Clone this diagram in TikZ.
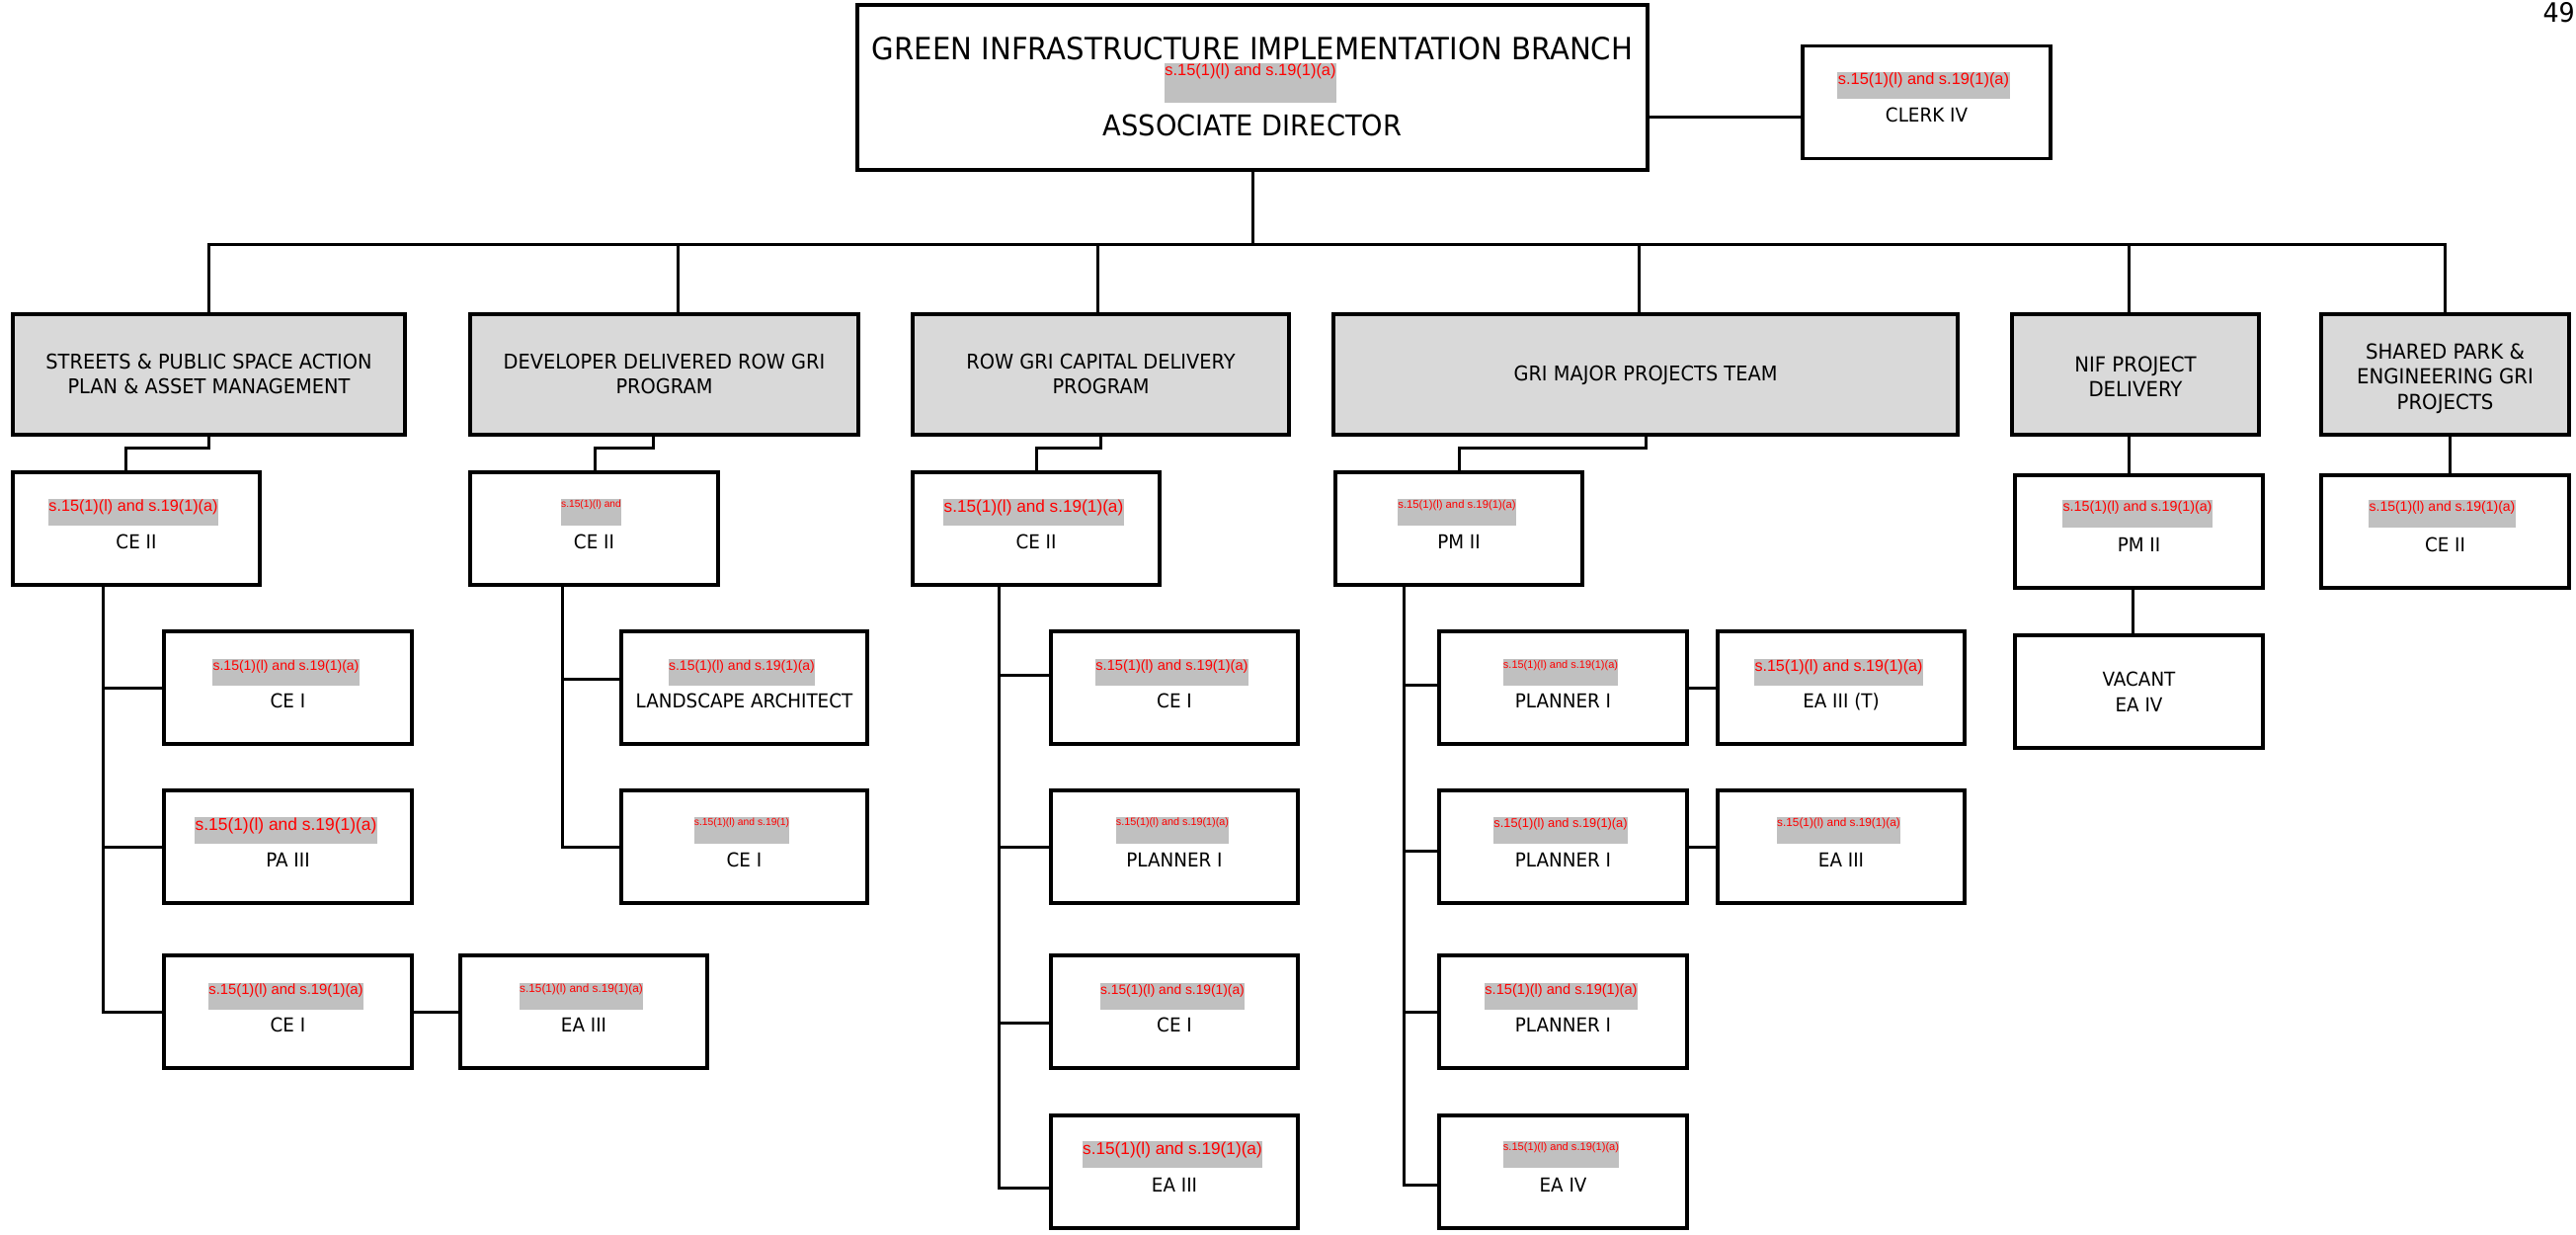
\documentclass[tikz,border=0pt]{standalone}
\usepackage{fontspec}
\newfontfamily\dv[FakeStretch=0.94]{DejaVu Sans}
\newfontfamily\lib{Liberation Sans}
\definecolor{hdrgray}{RGB}{217,217,217}
\definecolor{redgray}{RGB}{192,192,192}
\definecolor{redtxt}{RGB}{255,0,0}
\newcommand\pbx[5]{\node[pbox, minimum width=#4pt] (#1) at (#2,#3) {#5};}
\newcommand\rdx[7]{\pgfmathsetmacro\rth{1+0.73*#6}\pgfmathsetmacro\rtd{#5-\rth}%
  \node[redact, minimum width=#4pt, text height=\rth pt, text depth=\rtd pt, font=\lib\fontsize{#6}{#6}\selectfont] (#1) at (#2,#3) {#7};}
\newcommand\rtxt{s.15(1)(l) and s.19(1)(a)}
\tikzset{
  pbox/.style={draw, line width=3.2pt, fill=white, inner sep=0pt, text height=77pt, text depth=37pt, font=\dv\fontsize{19.5}{26}\selectfont},
  hbox/.style={draw, line width=3.2pt, fill=hdrgray, inner sep=0pt, font=\dv\fontsize{20.6}{25}\selectfont},
  redact/.style={fill=redgray, text=redtxt, inner sep=0pt},
  conn/.style={line width=3pt, line cap=rect},
}
\begin{document}
\begin{tikzpicture}[x=1pt,y=-1pt]
\fill[white] (0,0) rectangle (2608,1250);
\useasboundingbox (0,0) rectangle (2608,1250);

% top level
\node[pbox, minimum width=800pt, text height=55pt, text depth=112pt, font=\dv\fontsize{31}{36}\selectfont] (top) at (1268,88.5)
  {\begin{tabular}[t]{@{}c@{}}GREEN INFRASTRUCTURE IMPLEMENTATION BRANCH\\[41pt]{\fontsize{29}{36}\selectfont ASSOCIATE DIRECTOR}\end{tabular}};
\pbx{clerk}{1950.5}{103.5}{251}{CLERK IV}
\node[anchor=base east, inner sep=0pt, font=\dv\fontsize{27}{30}\selectfont] (pg) at (2607,22) {49};

% headers
\node[hbox, minimum width=397pt, text height=55pt, text depth=67pt] (h1) at (211.5,379)
  {\begin{tabular}[t]{@{}c@{}}STREETS \& PUBLIC SPACE ACTION\\PLAN \& ASSET MANAGEMENT\end{tabular}};
\node[hbox, minimum width=393pt, text height=55pt, text depth=67pt] (h2) at (672.5,379)
  {\begin{tabular}[t]{@{}c@{}}DEVELOPER DELIVERED ROW GRI\\PROGRAM\end{tabular}};
\node[hbox, minimum width=381pt, text height=55pt, text depth=67pt] (h3) at (1114.5,379)
  {\begin{tabular}[t]{@{}c@{}}ROW GRI CAPITAL DELIVERY\\PROGRAM\end{tabular}};
\node[hbox, minimum width=632pt, text height=67pt, text depth=55pt] (h4) at (1666,379) {GRI MAJOR PROJECTS TEAM};
\node[hbox, minimum width=250pt, text height=58pt, text depth=64pt, font=\dv\fontsize{21}{25}\selectfont] (h5) at (2162,379)
  {\begin{tabular}[t]{@{}c@{}}NIF PROJECT\\DELIVERY\end{tabular}};
\node[hbox, minimum width=251pt, text height=45pt, text depth=77pt, font=\dv\fontsize{21}{25.5}\selectfont] (h6) at (2475.5,379)
  {\begin{tabular}[t]{@{}c@{}}SHARED PARK \&\\ENGINEERING GRI\\PROJECTS\end{tabular}};

% second level
\pbx{c1}{138}{535}{250}{CE II}
\pbx{c2}{601.5}{535}{251}{CE II}
\pbx{c3}{1049}{535}{250}{CE II}
\pbx{c4}{1477}{535}{250}{PM II}
\pbx{c5}{2165.5}{538}{251}{PM II}
\pbx{c6}{2475.5}{538}{251}{CE II}

% staff boxes
\pbx{a1}{291.5}{696}{251}{CE I}
\pbx{a2}{291.5}{857}{251}{PA III}
\pbx{a3}{291.5}{1024}{251}{CE I}
\pbx{ea1}{591}{1024}{250}{EA III}
\pbx{b1}{753.5}{696}{249}{LANDSCAPE ARCHITECT}
\pbx{b2}{753.5}{857}{249}{CE I}
\pbx{e1}{1189}{696}{250}{CE I}
\pbx{e2}{1189}{857}{250}{PLANNER I}
\pbx{e3}{1189}{1024}{250}{CE I}
\pbx{e4}{1189}{1186}{250}{EA III}
\pbx{g1}{1582.5}{696}{251}{PLANNER I}
\pbx{g2}{1582.5}{857}{251}{PLANNER I}
\pbx{g3}{1582.5}{1024}{251}{PLANNER I}
\pbx{g4}{1582.5}{1186}{251}{EA IV}
\pbx{k1}{1864}{696}{250}{EA III (T)}
\pbx{k2}{1864}{857}{250}{EA III}
\node[pbox, minimum width=251pt, text height=51pt, text depth=63pt] (vac) at (2165.5,700)
  {\begin{tabular}[t]{@{}c@{}}VACANT\\EA IV\end{tabular}};

% redactions
\rdx{rtop}{1266}{84}{174}{40}{16.4}{\rtxt}
\rdx{rclerk}{1947.5}{86.5}{175}{27}{16.4}{\rtxt}
\rdx{rc1}{135}{518.5}{172}{27}{16.2}{\rtxt}
\rdx{rc2}{598.5}{518.5}{61}{27}{10.2}{s.15(1)(l) and}
\rdx{rc3}{1046.5}{518.5}{183}{27}{17.2}{\rtxt}
\rdx{rc4}{1475}{518.5}{120}{27}{11.3}{\rtxt}
\rdx{rc5}{2164}{520}{152}{28}{14.3}{\rtxt}
\rdx{rc6}{2472.5}{520}{149}{28}{14.0}{\rtxt}
\rdx{ra1}{289.5}{680.5}{149}{27}{14.0}{\rtxt}
\rdx{rb1}{751}{680.5}{148}{27}{14.0}{\rtxt}
\rdx{re1}{1186.5}{680.5}{155}{27}{14.6}{\rtxt}
\rdx{rg1}{1580}{680.5}{116}{27}{11.0}{\rtxt}
\rdx{rk1}{1861.5}{680.5}{171}{27}{16.1}{\rtxt}
\rdx{ra2}{289.5}{840.5}{185}{27}{17.4}{\rtxt}
\rdx{rb2}{751}{840.5}{96}{27}{10.3}{s.15(1)(l) and s.19(1)}
\rdx{re2}{1187}{840.5}{114}{27}{10.8}{\rtxt}
\rdx{rg2}{1580}{840.5}{136}{27}{12.8}{\rtxt}
\rdx{rk2}{1861.5}{840.5}{125}{27}{11.8}{\rtxt}
\rdx{ra3}{289.5}{1008}{157}{27}{14.8}{\rtxt}
\rdx{rea1}{588.5}{1008}{125}{27}{11.8}{\rtxt}
\rdx{re3}{1187}{1008.5}{146}{27}{13.8}{\rtxt}
\rdx{rg3}{1580.5}{1008.5}{155}{27}{14.6}{\rtxt}
\rdx{re4}{1187}{1168.5}{182}{27}{17.2}{\rtxt}
\rdx{rg4}{1580.5}{1168.5}{117}{27}{11.1}{\rtxt}

% connectors: top level
\coordinate (tc) at (1700,118);
\draw[conn] (top.east |- tc) -- (clerk.west |- tc);
\coordinate (busL) at (211,247);
\coordinate (busR) at (2475,247);
\draw[conn] (top.south) -- (top.south |- busL);
\draw[conn] (busL) -- (busR);
\foreach \n/\xx in {1/211,2/686,3/1111,4/1659,5/2155,6/2475}{
  \coordinate (bd\n) at (\xx,247);
  \draw[conn] (bd\n) -- (bd\n |- h\n.north);
}

% header to second level
\coordinate (el1) at (127,453);
\draw[conn] (h1.south) |- (el1) -- (el1 |- c1.north);
\coordinate (el2a) at (661,453);
\coordinate (el2b) at (602,453);
\draw[conn] (el2a |- h2.south) -- (el2a) -- (el2b) -- (el2b |- c2.north);
\coordinate (el3) at (1049,453);
\draw[conn] (h3.south) |- (el3) -- (el3 |- c3.north);
\coordinate (el4) at (1477,453);
\draw[conn] (h4.south) |- (el4) -- (el4 |- c4.north);
\coordinate (v5) at (2155,460);
\draw[conn] (v5 |- h5.south) -- (v5 |- c5.north);
\coordinate (v6) at (2480,460);
\draw[conn] (v6 |- h6.south) -- (v6 |- c6.north);
\coordinate (v7) at (2159,620);
\draw[conn] (v7 |- c5.south) -- (v7 |- vac.north);

% column 1
\coordinate (s1) at (104,0);
\draw[conn] (s1 |- c1.south) -- (s1 |- a3.west) -- (a3.west);
\draw[conn] (s1 |- a1.west) -- (a1.west);
\draw[conn] (s1 |- a2.west) -- (a2.west);
\draw[conn] (a3.east) -- (ea1.west);

% column 2
\coordinate (s2) at (569,0);
\coordinate (b1p) at ([yshift=9pt]b1.west);
\draw[conn] (s2 |- c2.south) -- (s2 |- b2.west) -- (b2.west);
\draw[conn] (s2 |- b1p) -- (b1p);

% column 3
\coordinate (s3) at (1011,0);
\coordinate (e1p) at ([yshift=13pt]e1.west);
\coordinate (e3p) at ([yshift=-11pt]e3.west);
\coordinate (e4p) at ([yshift=-16pt]e4.west);
\draw[conn] (s3 |- c3.south) -- (s3 |- e4p) -- (e4p);
\draw[conn] (s3 |- e1p) -- (e1p);
\draw[conn] (s3 |- e2.west) -- (e2.west);
\draw[conn] (s3 |- e3p) -- (e3p);

% column 4
\coordinate (s4) at (1421,0);
\coordinate (g1p) at ([yshift=3pt]g1.west);
\coordinate (g2p) at ([yshift=-4pt]g2.west);
\coordinate (g4p) at ([yshift=-13pt]g4.west);
\draw[conn] (s4 |- c4.south) -- (s4 |- g4p) -- (g4p);
\draw[conn] (s4 |- g1p) -- (g1p);
\draw[conn] (s4 |- g2p) -- (g2p);
\draw[conn] (s4 |- g3.west) -- (g3.west);
\draw[conn] (g1.east) -- (k1.west);
\draw[conn] (g2.east) -- (k2.west);
\end{tikzpicture}
\end{document}
